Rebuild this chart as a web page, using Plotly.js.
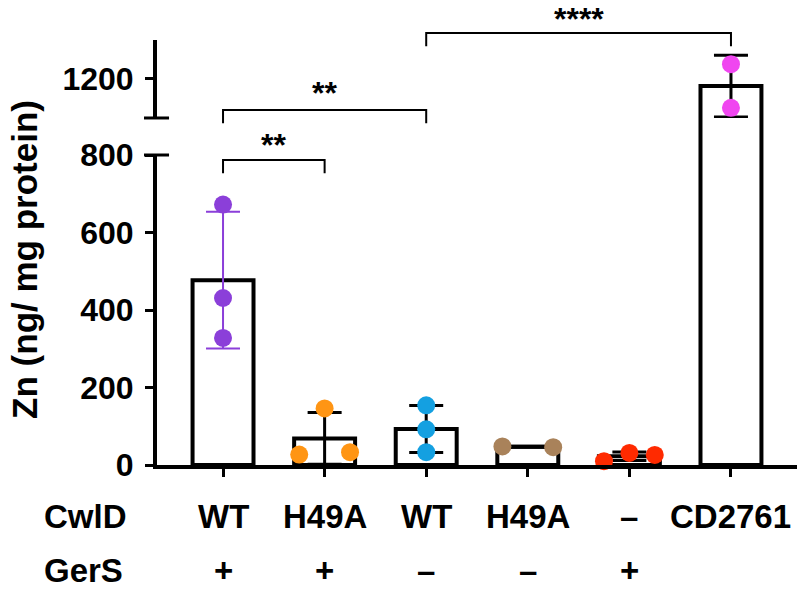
<!DOCTYPE html>
<html>
<head>
<meta charset="utf-8">
<script src="https://cdn.plot.ly/plotly-3.0.1.min.js"></script>
<style>
  html, body { margin: 0; padding: 0; background: #fff; }
  #chart { width: 800px; height: 593px; }
</style>
</head>
<body>
<div id="chart"></div>
<script>
// Zn content per strain, individual replicates
const cwld = ['WT', 'H49A', 'WT', 'H49A', '–', 'CD2761'];
const gers = ['+', '+', '–', '–', '+', ''];
const zn = [
  [672, 431, 328],
  [146, 27, 33],
  [154, 92, 33],
  [48, 46],
  [10, 31, 26],
  [1238, 1126]
];
const spread = [
  [0, 0, 0],
  [0, -0.25, 0.25],
  [0, 0, 0],
  [-0.25, 0.25],
  [-0.25, 0, 0.25],
  [0, 0]
];
const dotColors = ['#8b3fd9', '#ff9514', '#14a0e1', '#a9825a', '#ff2a00', '#f046f0'];
const errColors = ['#8b3fd9', '#000', '#000', '#000', '#000', '#000'];
const pairs = [[0, 1], [0, 2], [2, 5]];
const stars = ['**', '**', '****'];
const lowTicks = [0, 200, 400, 600, 800];
const highTicks = [1200];

// axis break
const LOW = [0, 800], HIGH = [1100, 1300];
const LOW_DOM = [0, 0.7294], HIGH_DOM = [0.8165, 1];

const FONT = 'Liberation Sans, Arial, Helvetica, sans-serif';
const mean = a => a.reduce((s, v) => s + v, 0) / a.length;
const sd = a => { const m = mean(a); return Math.sqrt(a.reduce((s, v) => s + (v - m) ** 2, 0) / (a.length - 1)); };
const idx = cwld.map((_, i) => i);
const means = zn.map(mean);
const sds = zn.map(sd);
const onHigh = m => m > LOW[1];

const traces = [];
// white bars, lower panel
traces.push({
  type: 'bar', x: idx, y: means, width: 0.6, yaxis: 'y',
  marker: { color: '#fff', line: { color: '#000', width: 4 } },
  hoverinfo: 'skip'
});
// upper panel only for bars that reach it
const hi = idx.filter(i => means[i] > HIGH[0]);
traces.push({
  type: 'bar', x: hi, y: hi.map(i => means[i]), width: 0.6, yaxis: 'y2',
  marker: { color: '#fff', line: { color: '#000', width: 4 } },
  hoverinfo: 'skip'
});
// error bars (mean ± SD)
idx.forEach(i => {
  traces.push({
    type: 'scatter', mode: 'markers', x: [i], y: [means[i]],
    yaxis: onHigh(means[i]) ? 'y2' : 'y',
    marker: { size: 1, opacity: 0 },
    error_y: { type: 'data', array: [sds[i]], visible: true, color: errColors[i],
               thickness: i === 0 ? 2 : 3, width: 17 },
    hoverinfo: 'skip'
  });
});
// replicate dots
idx.forEach(i => {
  traces.push({
    type: 'scatter', mode: 'markers',
    x: zn[i].map((_, k) => i + spread[i][k]), y: zn[i],
    yaxis: onHigh(means[i]) ? 'y2' : 'y',
    marker: { size: 18, color: dotColors[i] },
    cliponaxis: false
  });
});

const shapes = [];
// break caps on the y axis
shapes.push({ type: 'line', xref: 'paper', yref: 'paper', x0: -0.0203, x1: 0.0188, y0: LOW_DOM[1], y1: LOW_DOM[1], line: { color: '#000', width: 3 } });
shapes.push({ type: 'line', xref: 'paper', yref: 'paper', x0: -0.0203, x1: 0.0188, y0: HIGH_DOM[0], y1: HIGH_DOM[0], line: { color: '#000', width: 3 } });
// bar sides carried through the gap
idx.filter(i => means[i] > LOW[1]).forEach(i => {
  [-0.3, 0.3].forEach(d => shapes.push({
    type: 'line', xref: 'x', yref: 'paper', x0: i + d, x1: i + d,
    y0: LOW_DOM[1], y1: HIGH_DOM[0], line: { color: '#000', width: 4 }
  }));
});
// significance brackets
const bracketTop = [0.7176, 0.8353, 1.0165];
const leg = 0.031;
const starY = [0.752, 0.876, 1.05];
const annotations = [];
pairs.forEach(([a, b], k) => {
  const t = bracketTop[k];
  shapes.push({
    type: 'path', xref: 'x', yref: 'paper',
    path: `M${a},${t - leg} L${a},${t} L${b},${t} L${b},${t - leg}`,
    line: { color: '#000', width: 2 }
  });
  annotations.push({
    xref: 'x', yref: 'paper', x: (a + b) / 2, y: starY[k], text: stars[k],
    showarrow: false, xanchor: 'center', yanchor: 'middle',
    font: { family: FONT, size: 32, color: '#000', weight: 'bold' }
  });
});

const rowFont = { family: FONT, size: 33, color: '#000', weight: 'bold' };
const ROW_Y = [-0.12, -0.2494];
annotations.push({ xref: 'paper', yref: 'paper', x: -0.1797, y: ROW_Y[0], text: 'CwlD', showarrow: false, xanchor: 'left', yanchor: 'middle', font: rowFont });
annotations.push({ xref: 'paper', yref: 'paper', x: -0.1797, y: ROW_Y[1], text: 'GerS', showarrow: false, xanchor: 'left', yanchor: 'middle', font: rowFont });
idx.forEach(i => {
  annotations.push({ xref: 'x', yref: 'paper', x: i, y: ROW_Y[0], text: cwld[i], showarrow: false, xanchor: 'center', yanchor: 'middle', font: rowFont });
  if (gers[i]) annotations.push({ xref: 'x', yref: 'paper', x: i, y: ROW_Y[1], text: gers[i], showarrow: false, xanchor: 'center', yanchor: 'middle', font: rowFont });
});
// y title
annotations.push({
  xref: 'paper', yref: 'paper', x: -0.206, y: 0.483, text: 'Zn (ng/ mg protein)',
  textangle: -90, showarrow: false, xanchor: 'center', yanchor: 'middle',
  font: { family: FONT, size: 35, color: '#000', weight: 'bold' }
});

const yBase = {
  ticks: 'outside', ticklen: 8, tickwidth: 3, tickcolor: '#000',
  showline: true, linewidth: 4, linecolor: '#000',
  showgrid: false, zeroline: false, fixedrange: true,
  ticklabelstandoff: 5,
  tickfont: { family: FONT, size: 32, color: '#000', weight: 'bold' },
  anchor: 'x'
};

const layout = {
  width: 800, height: 593,
  margin: { l: 157, r: 3, t: 40, b: 128 },
  paper_bgcolor: '#fff', plot_bgcolor: '#fff',
  showlegend: false, bargap: 0,
  xaxis: {
    range: [-0.65, 5.65], tickvals: idx, showticklabels: false,
    ticks: 'outside', ticklen: 8, tickwidth: 3, tickcolor: '#000',
    showline: true, linewidth: 4, linecolor: '#000',
    showgrid: false, zeroline: false, fixedrange: true, anchor: 'y'
  },
  yaxis: { ...yBase, domain: LOW_DOM, range: LOW, tickvals: lowTicks },
  yaxis2: { ...yBase, domain: HIGH_DOM, range: HIGH, tickvals: highTicks },
  shapes: shapes,
  annotations: annotations
};

Plotly.newPlot('chart', traces, layout, { staticPlot: true });
</script>
</body>
</html>
